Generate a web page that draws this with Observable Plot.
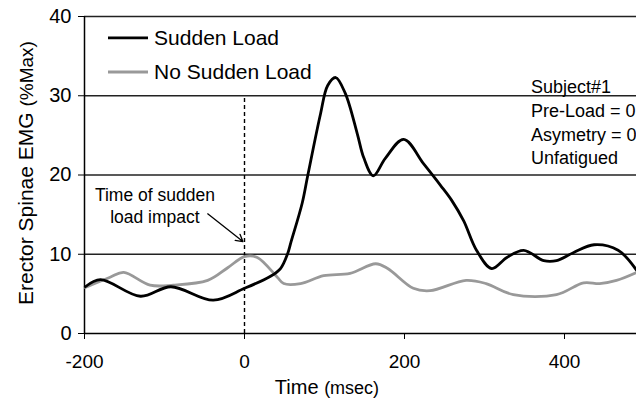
<!DOCTYPE html>
<html>
<head>
<meta charset="utf-8">
<script src="https://cdn.jsdelivr.net/npm/d3@7"></script>
<script src="https://cdn.jsdelivr.net/npm/@observablehq/plot@0.6"></script>
<style>
  html, body { margin: 0; padding: 0; background: #fff; }
  #chart svg { display: block; }
</style>
</head>
<body>
<div id="chart"></div>
<script>
// ---- Data ----
const suddenT = [-199, -180, -130, -92, -39, 0, 32, 45, 54, 58, 72, 79, 95, 104, 114, 126, 141, 149, 161, 176, 199, 224, 245, 259, 274, 290, 309, 328, 349, 374, 390, 411, 437, 467, 490];
const suddenV = [5.9, 6.8, 4.7, 5.9, 4.2, 5.7, 7.2, 8.2, 10.1, 11.5, 16.4, 19.9, 27.7, 31.3, 32.3, 30.3, 25.2, 22.2, 19.9, 22.1, 24.5, 21.4, 18.7, 16.8, 14.2, 10.5, 8.2, 9.6, 10.5, 9.2, 9.2, 10.2, 11.2, 10.5, 8.0];
const noSuddenT = [-199, -168, -151, -118, -89, -46, -21, 0, 16, 41, 49, 70, 99, 132, 164, 179, 211, 232, 277, 302, 336, 390, 424, 444, 465, 490];
const noSuddenV = [5.8, 7.1, 7.7, 6.1, 6.1, 6.7, 8.3, 9.7, 9.6, 7.1, 6.3, 6.3, 7.3, 7.6, 8.8, 8.2, 5.7, 5.4, 6.7, 6.3, 4.9, 4.9, 6.4, 6.3, 6.7, 7.7];

const xTicks = [-200, 0, 200, 400];
const xTickLabels = ["-200", "0", "200", "400"];
const yTicks = [0, 10, 20, 30, 40];
const gridValues = [10, 20, 30, 40];
const impactTime = [0];
const impactTop = 30;

const seriesNames = ["Sudden Load", "No Sudden Load"];
const seriesColors = ["#000000", "#999999"];

const legendY = [37.3, 33.0];
const legendX1 = -170, legendX2 = -120, legendTextX = -113;

const infoLines = ["Subject#1", "Pre-Load = 0", "Asymetry = 0", "Unfatigued"];
const infoX = 358;
const infoY = [31.1, 28.1, 25.0, 22.1];

const annotationLines = ["Time of sudden", "load impact"];
const annotationX = -112;
const annotationY = [17.4, 14.6];
const arrowFrom = {x: -46, y: 15.1};
const arrowTo = {x: -2, y: 11.6};

// ---- Build tables ----
const sudden = suddenT.map((t, i) => ({t, v: suddenV[i]}));
const noSudden = noSuddenT.map((t, i) => ({t, v: noSuddenV[i]}));
const legend = seriesNames.map((name, i) => ({name, color: seriesColors[i], y: legendY[i]}));
const info = infoLines.map((text, i) => ({text, y: infoY[i]}));
const annotation = annotationLines.map((text, i) => ({text, y: annotationY[i]}));

const FONT = "'Liberation Sans', Arial, Helvetica, sans-serif";

const chart = Plot.plot({
  width: 636,
  height: 399,
  marginLeft: 84,
  marginRight: 0,
  marginTop: 16,
  marginBottom: 66,
  style: {fontFamily: FONT, fontSize: "19px", color: "#000", background: "#fff"},
  x: {domain: [-200, 490]},
  y: {domain: [0, 40]},
  marks: [
    Plot.ruleY(gridValues, {stroke: "#222", strokeWidth: 1.4}),
    Plot.ruleY([0], {stroke: "#000", strokeWidth: 1.5}),
    Plot.ruleX([-200], {stroke: "#000", strokeWidth: 1.5}),
    Plot.axisY({ticks: yTicks, tickSize: 6, tickPadding: 7, fontSize: 20, label: null, stroke: "#000"}),
    Plot.axisX({ticks: xTicks, tickFormat: (d) => xTickLabels[xTicks.indexOf(d)], tickSize: 6, tickPadding: 15, fontSize: 19, label: null, stroke: "#000"}),
    Plot.ruleX(impactTime, {y1: 0, y2: impactTop, stroke: "#000", strokeWidth: 1.4, strokeDasharray: "4,3"}),
    Plot.line(noSudden, {x: "t", y: "v", stroke: seriesColors[1], strokeWidth: 2.8, curve: "catmull-rom"}),
    Plot.line(sudden, {x: "t", y: "v", stroke: seriesColors[0], strokeWidth: 2.8, curve: "catmull-rom"}),
    Plot.ruleY(legend, {y: "y", x1: legendX1, x2: legendX2, stroke: "color", strokeWidth: 2.8}),
    Plot.text(legend, {x: legendTextX, y: "y", text: "name", textAnchor: "start", fontSize: 21, fill: "#000"}),
    Plot.text(info, {x: infoX, y: "y", text: "text", textAnchor: "start", fontSize: 18, fill: "#000"}),
    Plot.text(annotation, {x: annotationX, y: "y", text: "text", textAnchor: "middle", fontSize: 17.5, fill: "#000"}),
    Plot.arrow([arrowFrom], {x1: "x", y1: "y", x2: arrowTo.x, y2: arrowTo.y, stroke: "#000", strokeWidth: 1.3, headLength: 9})
  ]
});

document.getElementById("chart").appendChild(chart);

// Axis titles with smaller parenthetical units
const svg = d3.select(chart);
const xt = svg.append("text")
  .attr("x", 327).attr("y", 394)
  .attr("text-anchor", "middle")
  .attr("font-family", FONT).attr("fill", "#000");
xt.append("tspan").attr("font-size", 20).text("Time ");
xt.append("tspan").attr("font-size", 18).text("(msec)");

const yt = svg.append("text")
  .attr("transform", "translate(33,173) rotate(-90)")
  .attr("text-anchor", "middle")
  .attr("font-family", FONT).attr("fill", "#000");
yt.append("tspan").attr("font-size", 21).text("Erector Spinae EMG ");
yt.append("tspan").attr("font-size", 19).text("(%Max)");
</script>
</body>
</html>
